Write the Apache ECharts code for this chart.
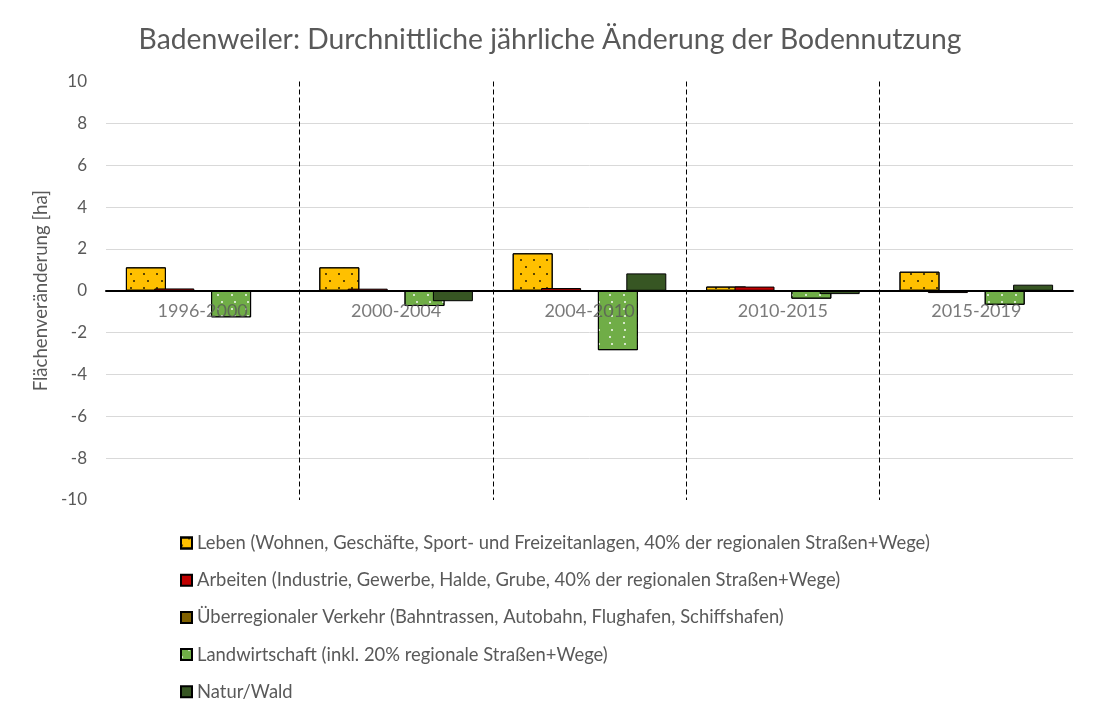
<!DOCTYPE html>
<html>
<head>
<meta charset="utf-8">
<script src="https://cdn.jsdelivr.net/npm/echarts@6/dist/echarts.min.js"></script>
<style>html,body{margin:0;padding:0;background:#fff;}#c{width:1100px;height:720px;}</style>
</head>
<body>
<div id="c"></div>
<script>
const titleText = 'Badenweiler: Durchnittliche jährliche Änderung der Bodennutzung';
const categories = ['1996-2000', '2000-2004', '2004-2010', '2010-2015', '2015-2019'];
const seriesNames = [
  'Leben (Wohnen, Geschäfte, Sport- und Freizeitanlagen, 40% der regionalen Straßen+Wege)',
  'Arbeiten (Industrie, Gewerbe, Halde, Grube, 40% der regionalen Straßen+Wege)',
  'Überregionaler Verkehr (Bahntrassen, Autobahn, Flughafen, Schiffshafen)',
  'Landwirtschaft (inkl. 20% regionale Straßen+Wege)',
  'Natur/Wald'
];
const leben = [1.12, 1.12, 1.79, 0.2, 0.91];
const arbeiten = [0.11, 0.1, 0.13, 0.2, -0.11];
const verkehr = [0, 0, 0, 0, 0];
const landwirtschaft = [-1.27, -0.73, -2.84, -0.38, -0.67];
const natur = [0, -0.5, 0.83, -0.16, 0.29];
const yTicks = [-10, -8, -6, -4, -2, 0, 2, 4, 6, 8, 10];

const FONT = 'Lato, "Open Sans", sans-serif';
const TXT = '#595959';
const colors = ['#FFC000', '#C00000', '#7F6000', '#70AD47', '#375623'];

function dots(color) {
  return {
    symbol: 'circle',
    symbolSize: 1,
    color: color,
    dashArrayX: [[2, 11], [0, 6.5, 2, 4.5]],
    dashArrayY: [2, 4.5]
  };
}
const decals = [dots('rgba(0,0,0,0.85)'), null, null, dots('rgba(255,255,255,0.95)'), null];
const values = [leben, arbeiten, verkehr, landwirtschaft, natur];

const barSeries = seriesNames.map((n, i) => ({
  name: n,
  type: 'bar',
  data: values[i],
  barWidth: 40,
  barGap: '-29%',
  itemStyle: Object.assign({color: colors[i], borderColor: '#000', borderWidth: 1},
    decals[i] ? {decal: decals[i]} : {})
}));

// category labels that sit just below the zero line
const labelSeries = {
  name: 'categoryLabels',
  type: 'scatter',
  data: categories.map(c => [c, 0]),
  symbolSize: 0,
  silent: true,
  z: 10,
  label: {
    show: true,
    position: 'bottom',
    distance: 11,
    formatter: p => p.value[0],
    fontFamily: FONT, fontSize: 18, color: TXT
  }
};

const chart = echarts.init(document.getElementById('c'), null, {renderer: 'canvas'});
chart.setOption({
  animation: false,
  backgroundColor: '#fff',
  textStyle: {fontFamily: FONT},
  title: {
    text: titleText,
    left: 'center',
    top: 21,
    textStyle: {fontFamily: FONT, fontSize: 28.3, fontWeight: 'normal', color: TXT}
  },
  legend: {
    orient: 'vertical',
    left: 175,
    top: 529,
    icon: 'rect',
    itemWidth: 11,
    itemHeight: 11,
    itemGap: 19.2,
    textStyle: {fontFamily: FONT, fontSize: 18.4, color: TXT},
    data: seriesNames
  },
  grid: {left: 106, right: 27, top: 81.5, bottom: 220, containLabel: false},
  xAxis: {
    type: 'category',
    data: categories,
    axisLine: {onZero: true, lineStyle: {color: '#000', width: 2}},
    axisTick: {show: false},
    axisLabel: {show: false},
    splitLine: {show: true, showMinLine: false, showMaxLine: false,
      lineStyle: {color: '#000', width: 1, type: [5, 3]}},
    z: 5
  },
  yAxis: {
    type: 'value',
    min: -10, max: 10, interval: 2,
    name: 'Flächenveränderung [ha]',
    nameLocation: 'middle',
    nameGap: 54,
    nameTextStyle: {fontFamily: FONT, fontSize: 18.6, color: TXT},
    axisLine: {show: false},
    axisTick: {show: false},
    axisLabel: {fontFamily: FONT, fontSize: 17, color: TXT, margin: 19},
    splitLine: {show: true, showMinLine: false, showMaxLine: false,
      lineStyle: {color: '#D9D9D9', width: 1}}
  },
  series: barSeries.concat([labelSeries])
});
</script>
</body>
</html>
